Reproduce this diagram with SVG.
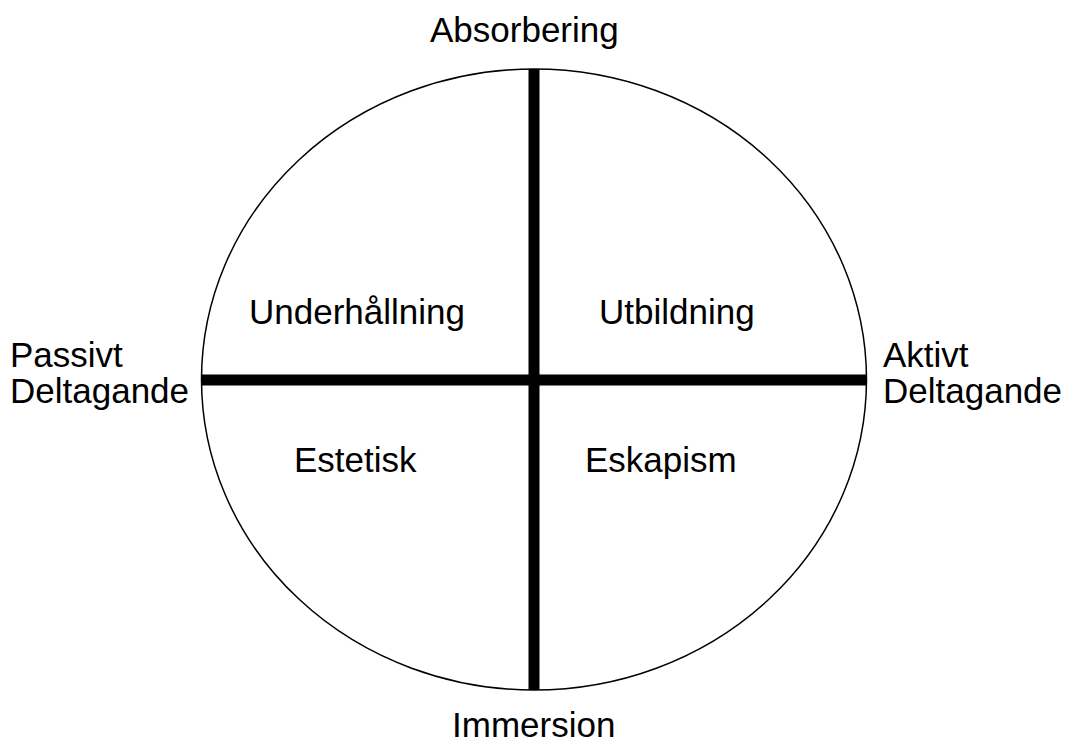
<svg xmlns="http://www.w3.org/2000/svg" width="1069" height="744" viewBox="0 0 1069 744">
<style>
text{font-family:"Liberation Sans",Arial,sans-serif;font-size:35px;fill:#000}
.axis{stroke:#000;stroke-width:11;fill:none}
</style>
<rect width="1069" height="744" fill="#fff"/>
<g id="circle"><ellipse cx="534" cy="379.5" rx="332.5" ry="310.5" fill="none" stroke="#000" stroke-width="1.5"/></g>
<g id="connectors">
<line class="axis" x1="534" y1="69" x2="534" y2="690"/>
<line class="axis" x1="201" y1="380" x2="867" y2="380"/>
</g>
<g id="absorbering"><text x="430" y="42">Absorbering</text></g>
<g id="immersion"><text x="452" y="737">Immersion</text></g>
<g id="passivt"><text x="10" y="367">Passivt</text><text x="10" y="403">Deltagande</text></g>
<g id="aktivt"><text x="883" y="367">Aktivt</text><text x="883" y="403">Deltagande</text></g>
<g id="underhallning"><text x="249" y="324">Underhållning</text></g>
<g id="utbildning"><text x="599" y="324">Utbildning</text></g>
<g id="estetisk"><text x="294" y="472">Estetisk</text></g>
<g id="eskapism"><text x="585" y="472">Eskapism</text></g>
</svg>
